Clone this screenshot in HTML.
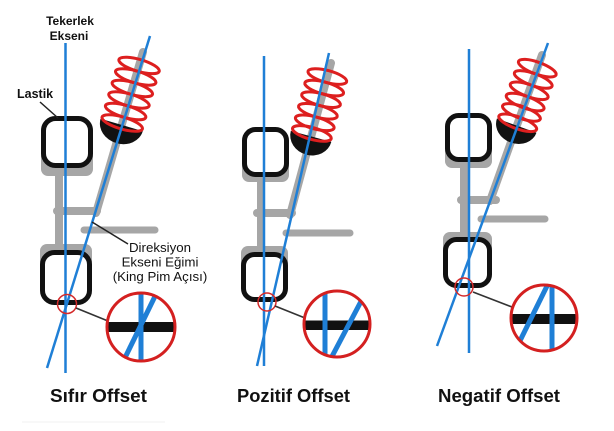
<!DOCTYPE html>
<html>
<head>
<meta charset="utf-8">
<style>
html,body{margin:0;padding:0;background:#fff;}
svg{display:block;}
text{font-family:"Liberation Sans",Arial,sans-serif;fill:#111;}
</style>
</head>
<body>
<svg width="614" height="431" viewBox="0 0 614 431" xmlns="http://www.w3.org/2000/svg">
<defs>
  <clipPath id="c1"><circle cx="141" cy="327" r="33"/></clipPath>
  <clipPath id="c2"><circle cx="337" cy="324" r="32"/></clipPath>
  <clipPath id="c3"><circle cx="544" cy="318" r="32"/></clipPath>
</defs>

<!-- ===================== PANEL 1 ===================== -->
<g>
  <rect x="41" y="124" width="52" height="52" rx="7" fill="#a6a6a6"/>
  <rect x="40" y="244" width="52" height="30" rx="7" fill="#a6a6a6"/>
  <line x1="59" y1="170" x2="59" y2="250" stroke="#a6a6a6" stroke-width="8"/>
  <line x1="57" y1="211" x2="97" y2="211" stroke="#a6a6a6" stroke-width="8" stroke-linecap="round"/>
  <line x1="84" y1="230" x2="155" y2="230" stroke="#a6a6a6" stroke-width="7" stroke-linecap="round"/>
  <line x1="143" y1="52" x2="96" y2="213" stroke="#a6a6a6" stroke-width="8" stroke-linecap="round"/>
  <rect x="43.5" y="118.5" width="47" height="47" rx="12" fill="#fff" stroke="#111" stroke-width="5"/>
  <rect x="42.5" y="252.5" width="47" height="50" rx="12" fill="#fff" stroke="#111" stroke-width="5"/>
  <g transform="translate(143,52) rotate(16.3)">
    <path d="M-22,76 A22,19 0 0 0 22,76 Z" fill="#111"/>
    <g fill="none" stroke="#dd1f1f" stroke-width="3">
      <ellipse cx="0" cy="14" rx="21" ry="6"/>
      <ellipse cx="0" cy="26" rx="21" ry="6"/>
      <ellipse cx="0" cy="38" rx="21" ry="6"/>
      <ellipse cx="0" cy="50" rx="21" ry="6"/>
      <ellipse cx="0" cy="62" rx="21" ry="6"/>
      <ellipse cx="0" cy="74" rx="21" ry="6"/>
    </g>
  </g>
  <line x1="65.5" y1="43" x2="65.5" y2="373" stroke="#1f7fd6" stroke-width="2.5"/>
  <line x1="150" y1="36" x2="47" y2="368" stroke="#1f7fd6" stroke-width="2.5"/>
  <circle cx="67" cy="304" r="9.5" fill="none" stroke="#d42a2a" stroke-width="1.5"/>
  <line x1="76" y1="308" x2="108" y2="321" stroke="#333" stroke-width="1.6"/>
  <g clip-path="url(#c1)">
    <rect x="100" y="322" width="90" height="10" fill="#111"/>
    <line x1="141" y1="285" x2="141" y2="370" stroke="#1f7fd6" stroke-width="5"/>
    <line x1="161" y1="284" x2="119" y2="370" stroke="#1f7fd6" stroke-width="5"/>
  </g>
  <circle cx="141" cy="327" r="34" fill="none" stroke="#d42020" stroke-width="3"/>
  <text x="70" y="25" font-size="12" font-weight="bold" text-anchor="middle">Tekerlek</text>
  <text x="69" y="40" font-size="12" font-weight="bold" text-anchor="middle">Ekseni</text>
  <text x="17" y="98" font-size="12.5" font-weight="bold">Lastik</text>
  <line x1="40" y1="102" x2="58" y2="118" stroke="#222" stroke-width="1.5"/>
  <line x1="92" y1="222" x2="128" y2="244" stroke="#222" stroke-width="1.5"/>
  <text x="160" y="252" font-size="13.3" text-anchor="middle">Direksiyon</text>
  <text x="160" y="266.5" font-size="13.3" text-anchor="middle">Ekseni Eğimi</text>
  <text x="160" y="281" font-size="13.3" text-anchor="middle">(King Pim Açısı)</text>
  <text x="50" y="402" font-size="18.5" font-weight="bold" textLength="97" lengthAdjust="spacingAndGlyphs">Sıfır Offset</text>
  <line x1="22" y1="422" x2="165" y2="422" stroke="#f2f2f2" stroke-width="1"/>
</g>

<!-- ===================== PANEL 2 ===================== -->
<g>
  <rect x="242" y="135" width="47" height="47" rx="7" fill="#a6a6a6"/>
  <rect x="241" y="246" width="47" height="30" rx="7" fill="#a6a6a6"/>
  <line x1="261" y1="178" x2="261" y2="252" stroke="#a6a6a6" stroke-width="8"/>
  <line x1="257" y1="213" x2="292" y2="213" stroke="#a6a6a6" stroke-width="8" stroke-linecap="round"/>
  <line x1="286" y1="233" x2="350" y2="233" stroke="#a6a6a6" stroke-width="7" stroke-linecap="round"/>
  <line x1="331" y1="63" x2="290" y2="215" stroke="#a6a6a6" stroke-width="8" stroke-linecap="round"/>
  <rect x="244.5" y="129.5" width="42" height="45" rx="11" fill="#fff" stroke="#111" stroke-width="5"/>
  <rect x="243.5" y="254.5" width="42" height="45" rx="11" fill="#fff" stroke="#111" stroke-width="5"/>
  <g transform="translate(331,63) rotate(15.2)">
    <path d="M-21,76 A21,19 0 0 0 21,76 Z" fill="#111"/>
    <g fill="none" stroke="#dd1f1f" stroke-width="3">
      <ellipse cx="0" cy="14" rx="20" ry="6"/>
      <ellipse cx="0" cy="26" rx="20" ry="6"/>
      <ellipse cx="0" cy="38" rx="20" ry="6"/>
      <ellipse cx="0" cy="50" rx="20" ry="6"/>
      <ellipse cx="0" cy="62" rx="20" ry="6"/>
      <ellipse cx="0" cy="73" rx="20" ry="6"/>
    </g>
  </g>
  <line x1="264" y1="56" x2="264" y2="366" stroke="#1f7fd6" stroke-width="2.5"/>
  <line x1="329" y1="53" x2="257" y2="366" stroke="#1f7fd6" stroke-width="2.5"/>
  <circle cx="267" cy="302" r="9" fill="none" stroke="#d42a2a" stroke-width="1.5"/>
  <line x1="275" y1="306" x2="305" y2="318" stroke="#333" stroke-width="1.6"/>
  <g clip-path="url(#c2)">
    <rect x="295" y="320.5" width="85" height="9.5" fill="#111"/>
    <line x1="325" y1="285" x2="325" y2="365" stroke="#1f7fd6" stroke-width="5"/>
    <line x1="367" y1="290" x2="328" y2="364" stroke="#1f7fd6" stroke-width="5"/>
  </g>
  <circle cx="337" cy="324" r="33" fill="none" stroke="#d42020" stroke-width="3"/>
  <text x="237" y="402" font-size="18.5" font-weight="bold" textLength="113" lengthAdjust="spacingAndGlyphs">Pozitif Offset</text>
</g>

<!-- ===================== PANEL 3 ===================== -->
<g>
  <rect x="445" y="122" width="47" height="46" rx="7" fill="#a6a6a6"/>
  <rect x="443" y="232" width="49" height="30" rx="7" fill="#a6a6a6"/>
  <line x1="464" y1="164" x2="464" y2="238" stroke="#a6a6a6" stroke-width="8"/>
  <line x1="461" y1="200" x2="496" y2="200" stroke="#a6a6a6" stroke-width="8" stroke-linecap="round"/>
  <line x1="481" y1="219" x2="545" y2="219" stroke="#a6a6a6" stroke-width="7" stroke-linecap="round"/>
  <line x1="542" y1="55" x2="490" y2="201" stroke="#a6a6a6" stroke-width="8" stroke-linecap="round"/>
  <rect x="447.5" y="115.5" width="42" height="44" rx="11" fill="#fff" stroke="#111" stroke-width="5"/>
  <rect x="445.5" y="239.5" width="44" height="46" rx="11" fill="#fff" stroke="#111" stroke-width="5"/>
  <g transform="translate(542,55) rotate(19.7)">
    <path d="M-21,75 A21,18 0 0 0 21,75 Z" fill="#111"/>
    <g fill="none" stroke="#dd1f1f" stroke-width="3">
      <ellipse cx="0" cy="14" rx="20" ry="6"/>
      <ellipse cx="0" cy="26" rx="20" ry="6"/>
      <ellipse cx="0" cy="38" rx="20" ry="6"/>
      <ellipse cx="0" cy="50" rx="20" ry="6"/>
      <ellipse cx="0" cy="61" rx="20" ry="6"/>
      <ellipse cx="0" cy="72" rx="20" ry="6"/>
    </g>
  </g>
  <line x1="469" y1="49" x2="469" y2="353" stroke="#1f7fd6" stroke-width="2.5"/>
  <line x1="548" y1="43" x2="437" y2="346" stroke="#1f7fd6" stroke-width="2.5"/>
  <circle cx="464" cy="287" r="9" fill="none" stroke="#d42a2a" stroke-width="1.5"/>
  <line x1="473" y1="292" x2="512" y2="307" stroke="#333" stroke-width="1.6"/>
  <g clip-path="url(#c3)">
    <rect x="505" y="314" width="80" height="10" fill="#111"/>
    <line x1="552" y1="280" x2="552" y2="360" stroke="#1f7fd6" stroke-width="5"/>
    <line x1="548" y1="284" x2="511" y2="359" stroke="#1f7fd6" stroke-width="5"/>
  </g>
  <circle cx="544" cy="318" r="33" fill="none" stroke="#d42020" stroke-width="3"/>
  <text x="438" y="402" font-size="18.5" font-weight="bold" textLength="122" lengthAdjust="spacingAndGlyphs">Negatif Offset</text>
</g>
</svg>
</body>
</html>
